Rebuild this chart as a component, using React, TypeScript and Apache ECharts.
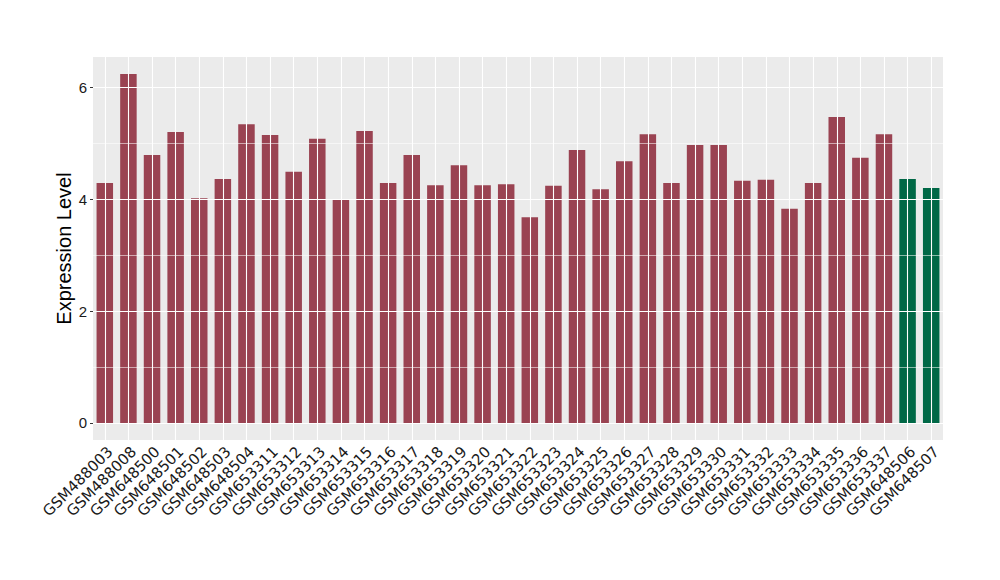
import React, { useEffect, useRef } from "react";
import * as echarts from "echarts";

const categories = [
  "GSM488003", "GSM488008", "GSM648500", "GSM648501", "GSM648502", "GSM648503",
  "GSM648504", "GSM653311", "GSM653312", "GSM653313", "GSM653314", "GSM653315",
  "GSM653316", "GSM653317", "GSM653318", "GSM653319", "GSM653320", "GSM653321",
  "GSM653322", "GSM653323", "GSM653324", "GSM653325", "GSM653326", "GSM653327",
  "GSM653328", "GSM653329", "GSM653330", "GSM653331", "GSM653332", "GSM653333",
  "GSM653334", "GSM653335", "GSM653336", "GSM653337", "GSM648506", "GSM648507",
];

const values = [
  4.29, 6.24, 4.79, 5.2, 4.02, 4.36,
  5.34, 5.15, 4.49, 5.08, 4.0, 5.22,
  4.29, 4.79, 4.25, 4.61, 4.25, 4.27,
  3.68, 4.24, 4.88, 4.18, 4.68, 5.16,
  4.29, 4.97, 4.97, 4.33, 4.35, 3.83,
  4.29, 5.47, 4.74, 5.16, 4.36, 4.2,
];

// group index per sample: 0 = first group, 1 = second group
const groups = [
  0, 0, 0, 0, 0, 0, 0, 0, 0, 0, 0, 0,
  0, 0, 0, 0, 0, 0, 0, 0, 0, 0, 0, 0,
  0, 0, 0, 0, 0, 0, 0, 0, 0, 0, 1, 1,
];

const groupColors = ["#9A4352", "#006846"];

const yMajorTicks = [0, 2, 4, 6];
const yMinorTicks = [1, 3, 5];
const yMin = -0.304;
const yMax = 6.543;

export default function App() {
  const ref = useRef<HTMLDivElement>(null);

  useEffect(() => {
    if (!ref.current) return;
    const chart = echarts.init(ref.current, null, { renderer: "svg" });
    const gridLines = [
      ...categories.map((c) => ({ xAxis: c, lineStyle: { width: 1.1 } })),
      ...yMajorTicks.map((v) => ({ yAxis: v, lineStyle: { width: 1.1 } })),
      ...yMinorTicks.map((v) => ({ yAxis: v, lineStyle: { width: 0.55 } })),
    ];
    chart.setOption({
      animation: false,
      grid: {
        left: 93,
        right: 57,
        top: 57,
        bottom: 140,
        show: true,
        backgroundColor: "#EBEBEB",
        borderWidth: 0,
      },
      xAxis: {
        type: "category",
        data: categories,
        axisLine: { show: false },
        axisTick: { show: true, alignWithLabel: true, length: 3, lineStyle: { color: "#333333", width: 1 } },
        splitLine: { show: false },
        axisLabel: {
          interval: 0,
          rotate: 45,
          margin: 4,
          verticalAlign: "top",
          fontFamily: "DejaVu Sans",
          fontSize: 15,
          color: "#1a1a1a",
        },
      },
      yAxis: {
        type: "value",
        min: yMin,
        max: yMax,
        axisLine: { show: false },
        splitLine: { show: false },
        axisTick: {
          show: true,
          length: 3,
          customValues: yMajorTicks,
          lineStyle: { color: "#333333", width: 1 },
        },
        axisLabel: {
          customValues: yMajorTicks,
          margin: 6,
          fontFamily: "Liberation Sans",
          fontSize: 15,
          color: "#1a1a1a",
        },
        name: "Expression Level",
        nameLocation: "middle",
        nameGap: 19,
        nameMoveOverlap: false,
        nameTextStyle: {
          fontFamily: "Liberation Sans",
          fontSize: 20,
          color: "#000000",
        },
      },
      series: [
        {
          type: "line",
          data: [],
          z: 1,
          silent: true,
          markLine: {
            silent: true,
            symbol: ["none", "none"],
            label: { show: false },
            lineStyle: { color: "#FFFFFF", type: "solid" },
            emphasis: { disabled: true },
            data: gridLines,
          },
        },
        {
          type: "bar",
          z: 2,
          barWidth: 16.5,
          data: values.map((v, i) => ({
            value: v,
            itemStyle: { color: groupColors[groups[i]] },
          })),
        },
      ],
    });
    return () => chart.dispose();
  }, []);

  return (
    <div
      ref={ref}
      style={{ position: "fixed", left: 0, top: 0, width: 1000, height: 580, background: "#FFFFFF" }}
    />
  );
}
